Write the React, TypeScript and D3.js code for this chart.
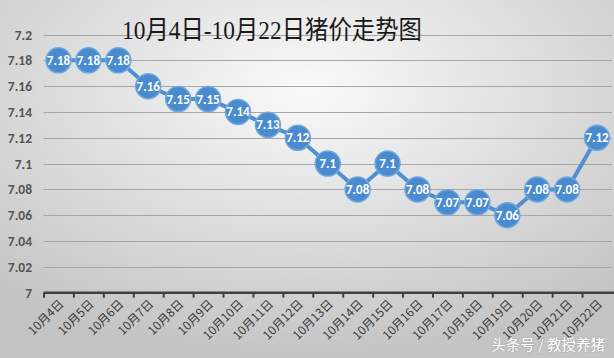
import React, { useEffect, useRef } from "react";
import * as d3 from "d3";

const days = [
  "10月4日", "10月5日", "10月6日", "10月7日", "10月8日", "10月9日", "10月10日",
  "10月11日", "10月12日", "10月13日", "10月14日", "10月15日", "10月16日",
  "10月17日", "10月18日", "10月19日", "10月20日", "10月21日", "10月22日",
];
const prices = [
  7.18, 7.18, 7.18, 7.16, 7.15, 7.15, 7.14, 7.13, 7.12, 7.1,
  7.08, 7.1, 7.08, 7.07, 7.07, 7.06, 7.08, 7.08, 7.12,
];
const yTicks = [7, 7.02, 7.04, 7.06, 7.08, 7.1, 7.12, 7.14, 7.16, 7.18, 7.2];
const title = "10月4日-10月22日猪价走势图";

const W = 614;
const H = 358;

export default function App() {
  const ref = useRef<SVGSVGElement>(null);

  useEffect(() => {
    const svg = d3.select(ref.current);
    svg.selectAll("*").remove();

    const defs = svg.append("defs");
    const grad = defs
      .append("radialGradient")
      .attr("id", "bg")
      .attr("cx", "50%")
      .attr("cy", "25%")
      .attr("r", "75%");
    grad.append("stop").attr("offset", "0%").attr("stop-color", "#fafafa");
    grad.append("stop").attr("offset", "100%").attr("stop-color", "#c4c4c4");

    svg.append("rect").attr("width", W).attr("height", H).attr("fill", "url(#bg)");

    const x = d3.scaleBand().domain(days).range([43.5, 612]);
    const y = d3.scaleLinear().domain([7, 7.2]).range([292.7, 34.5]);
    const cx = (d: string) => (x(d) as number) + x.bandwidth() / 2;

    // grid
    svg
      .append("g")
      .selectAll("line")
      .data(yTicks.slice(1))
      .join("line")
      .attr("x1", 43.5)
      .attr("x2", 612)
      .attr("y1", (d) => Math.round(y(d)) + 0.5)
      .attr("y2", (d) => Math.round(y(d)) + 0.5)
      .attr("stroke", "#a6a6a6")
      .attr("stroke-width", 1);

    // y labels
    svg
      .append("g")
      .selectAll("text")
      .data(yTicks)
      .join("text")
      .attr("x", 32)
      .attr("y", (d) => y(d) + 5)
      .attr("text-anchor", "end")
      .attr("font-family", "Calibri, 'Liberation Sans', Arial, sans-serif")
      .attr("font-size", 13.5)
      .attr("font-weight", "bold")
      .attr("fill", "#555555")
      .text((d) => String(+d.toFixed(2)));

    // x axis
    const xAxis = svg.append("g");
    xAxis
      .append("line")
      .attr("x1", 43.5)
      .attr("x2", W)
      .attr("y1", y(7))
      .attr("y2", y(7))
      .attr("stroke", "#404040")
      .attr("stroke-width", 2.5);
    xAxis
      .selectAll("line.tick")
      .data(days)
      .join("line")
      .attr("class", "tick")
      .attr("x1", (d) => (x(d) as number) + 0.5)
      .attr("x2", (d) => (x(d) as number) + 0.5)
      .attr("y1", y(7))
      .attr("y2", y(7) + 5)
      .attr("stroke", "#404040")
      .attr("stroke-width", 2);
    xAxis
      .selectAll("text")
      .data(days)
      .join("text")
      .attr("transform", (d) => `translate(${cx(d) + 6},${y(7) + 12}) rotate(-45)`)
      .attr("text-anchor", "end")
      .attr("font-family", "'Noto Sans CJK SC', sans-serif")
      .attr("font-size", 12)
      .attr("fill", "#3a3a3a")
      .text((d) => d);

    // line
    const line = d3
      .line<number>()
      .x((_, i) => cx(days[i]))
      .y((d) => y(d));
    svg
      .append("path")
      .datum(prices)
      .attr("d", line)
      .attr("fill", "none")
      .attr("stroke", "#4f90d2")
      .attr("stroke-width", 4);

    const pts = svg.append("g").selectAll("g").data(prices).join("g");
    pts
      .append("circle")
      .attr("cx", (_, i) => cx(days[i]))
      .attr("cy", (d) => y(d))
      .attr("r", 12.5)
      .attr("fill", "#4a8bcf")
      .attr("stroke", "#6fa8de")
      .attr("stroke-width", 1.5);
    pts
      .append("text")
      .attr("x", (_, i) => cx(days[i]))
      .attr("y", (d) => y(d) + 4.5)
      .attr("text-anchor", "middle")
      .attr("font-family", "Calibri, 'Liberation Sans', Arial, sans-serif")
      .attr("font-size", 13)
      .attr("font-weight", "bold")
      .attr("fill", "#ffffff")
      .text((d) => String(d));

    // title
    svg
      .append("text")
      .attr("x", 122)
      .attr("y", 39)
      .attr("textLength", 300)
      .attr("lengthAdjust", "spacingAndGlyphs")
      .attr("font-family", "'Liberation Serif', 'DejaVu Serif', 'Noto Sans CJK SC', serif")
      .attr("font-size", 26)
      .attr("fill", "#1a1a1a")
      .text(title);

    // watermark
    svg
      .append("text")
      .attr("x", 605)
      .attr("y", 350)
      .attr("text-anchor", "end")
      .attr("font-family", "'Noto Sans CJK SC', sans-serif")
      .attr("font-size", 14.5)
      .attr("fill", "#ffffff")
      .style("paint-order", "stroke")
      .attr("stroke", "#b0b0b0")
      .attr("stroke-width", 1.2)
      .text("头条号 / 教授养猪");
  }, []);

  return (
    <svg
      ref={ref}
      width={W}
      height={H}
      style={{ position: "absolute", left: 0, top: 0 }}
    />
  );
}
